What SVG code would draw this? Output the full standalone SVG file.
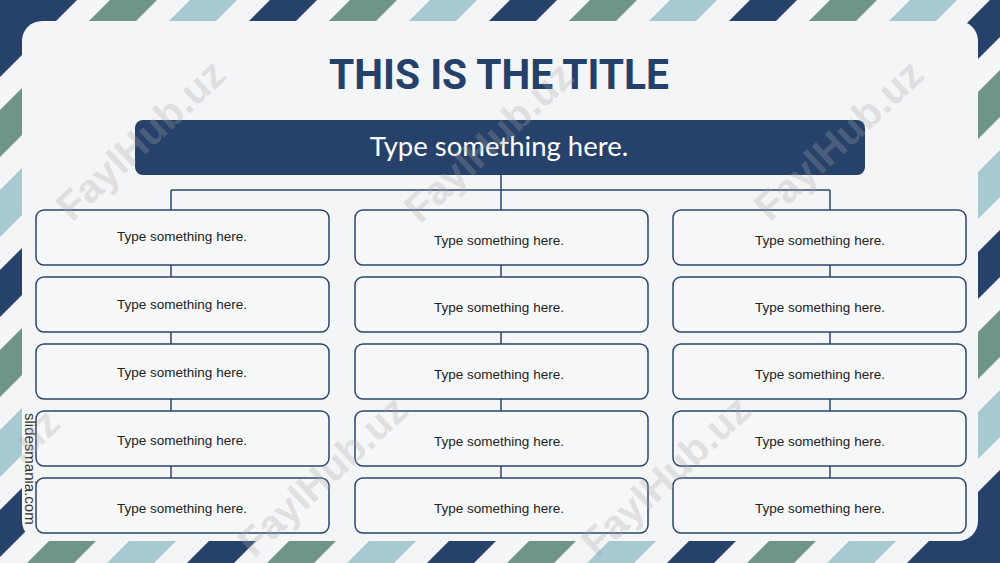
<svg xmlns="http://www.w3.org/2000/svg" width="1000" height="563" viewBox="0 0 1000 563">
<style>
.dk{fill:#26416a}.gr{fill:#6f958a}.lb{fill:#a7cad0}
.box{fill:#f6f7f8;stroke:#2b456d;stroke-width:1.5}
.bt{font-family:"Liberation Sans",Arial,sans-serif;font-size:13.5px;fill:#222;text-anchor:middle}
.con{stroke:#2b456d;stroke-width:1.5;fill:none}
.wm{font-family:"Liberation Sans",Arial,sans-serif;font-weight:bold;font-size:40px;fill:#a8a8a8;fill-opacity:0.3;text-anchor:middle}
</style>
<rect width="1000" height="563" fill="#f4f5f6"/>
<g id="stripes">
<polygon class="dk" points="0,0 77,0 0,77"/>
<polygon class="gr" points="110,0 157,0 -443,600 -490,600"/>
<polygon class="lb" points="190,0 237,0 -363,600 -410,600"/>
<polygon class="dk" points="270,0 317,0 -283,600 -330,600"/>
<polygon class="gr" points="350,0 397,0 -203,600 -250,600"/>
<polygon class="lb" points="430,0 477,0 -123,600 -170,600"/>
<polygon class="dk" points="510,0 557,0 -43,600 -90,600"/>
<polygon class="gr" points="590,0 637,0 37,600 -10,600"/>
<polygon class="lb" points="670,0 717,0 117,600 70,600"/>
<polygon class="dk" points="750,0 797,0 197,600 150,600"/>
<polygon class="gr" points="830,0 877,0 277,600 230,600"/>
<polygon class="lb" points="910,0 957,0 357,600 310,600"/>
<polygon class="dk" points="990,0 1037,0 437,600 390,600"/>
<polygon class="gr" points="1070,0 1117,0 517,600 470,600"/>
<polygon class="lb" points="1150,0 1197,0 597,600 550,600"/>
<polygon class="dk" points="1230,0 1277,0 677,600 630,600"/>
<polygon class="gr" points="1310,0 1357,0 757,600 710,600"/>
<polygon class="lb" points="1390,0 1437,0 837,600 790,600"/>
<polygon class="dk" points="1000,470 1000,600 870,600"/>
</g>
<rect id="panel" x="22" y="21" width="956" height="520" rx="20" fill="#f4f5f6"/>
<text id="title" x="499" y="89" font-family="Roboto,'Liberation Sans',sans-serif" font-weight="700" font-size="43" fill="#25406a" text-anchor="middle" textLength="340" lengthAdjust="spacingAndGlyphs">THIS IS THE TITLE</text>
<g id="connectors">
<line class="con" x1="501" y1="175" x2="501" y2="210"/>
<line class="con" x1="171" y1="190" x2="830" y2="190"/>
<line class="con" x1="171" y1="190" x2="171" y2="210"/>
<line class="con" x1="830" y1="190" x2="830" y2="210"/>
<line class="con" x1="171" y1="265" x2="171" y2="277"/>
<line class="con" x1="171" y1="332" x2="171" y2="344"/>
<line class="con" x1="171" y1="399" x2="171" y2="411"/>
<line class="con" x1="171" y1="466" x2="171" y2="478"/>
<line class="con" x1="501" y1="265" x2="501" y2="277"/>
<line class="con" x1="501" y1="332" x2="501" y2="344"/>
<line class="con" x1="501" y1="399" x2="501" y2="411"/>
<line class="con" x1="501" y1="466" x2="501" y2="478"/>
<line class="con" x1="830" y1="265" x2="830" y2="277"/>
<line class="con" x1="830" y1="332" x2="830" y2="344"/>
<line class="con" x1="830" y1="399" x2="830" y2="411"/>
<line class="con" x1="830" y1="466" x2="830" y2="478"/>
</g>
<g id="header">
<rect x="135" y="120" width="730" height="55" rx="8" fill="#26416a"/>
<text x="499" y="156" font-family="Lato,'Liberation Sans',sans-serif" font-size="27.5" fill="#ffffff" text-anchor="middle">Type something here.</text>
</g>
<g id="c1r1"><rect class="box" x="36" y="210" width="293" height="55" rx="8"/><text class="bt" x="182" y="241">Type something here.</text></g>
<g id="c1r2"><rect class="box" x="36" y="277" width="293" height="55" rx="8"/><text class="bt" x="182" y="309">Type something here.</text></g>
<g id="c1r3"><rect class="box" x="36" y="344" width="293" height="55" rx="8"/><text class="bt" x="182" y="377">Type something here.</text></g>
<g id="c1r4"><rect class="box" x="36" y="411" width="293" height="55" rx="8"/><text class="bt" x="182" y="445">Type something here.</text></g>
<g id="c1r5"><rect class="box" x="36" y="478" width="293" height="55" rx="8"/><text class="bt" x="182" y="513">Type something here.</text></g>
<g id="c2r1"><rect class="box" x="355" y="210" width="293" height="55" rx="8"/><text class="bt" x="499" y="245">Type something here.</text></g>
<g id="c2r2"><rect class="box" x="355" y="277" width="293" height="55" rx="8"/><text class="bt" x="499" y="312">Type something here.</text></g>
<g id="c2r3"><rect class="box" x="355" y="344" width="293" height="55" rx="8"/><text class="bt" x="499" y="379">Type something here.</text></g>
<g id="c2r4"><rect class="box" x="355" y="411" width="293" height="55" rx="8"/><text class="bt" x="499" y="446">Type something here.</text></g>
<g id="c2r5"><rect class="box" x="355" y="478" width="293" height="55" rx="8"/><text class="bt" x="499" y="513">Type something here.</text></g>
<g id="c3r1"><rect class="box" x="673" y="210" width="293" height="55" rx="8"/><text class="bt" x="820" y="245">Type something here.</text></g>
<g id="c3r2"><rect class="box" x="673" y="277" width="293" height="55" rx="8"/><text class="bt" x="820" y="312">Type something here.</text></g>
<g id="c3r3"><rect class="box" x="673" y="344" width="293" height="55" rx="8"/><text class="bt" x="820" y="379">Type something here.</text></g>
<g id="c3r4"><rect class="box" x="673" y="411" width="293" height="55" rx="8"/><text class="bt" x="820" y="446">Type something here.</text></g>
<g id="c3r5"><rect class="box" x="673" y="478" width="293" height="55" rx="8"/><text class="bt" x="820" y="513">Type something here.</text></g>
<text id="credit" transform="translate(25,413) rotate(90)" font-family="'Liberation Sans',Arial,sans-serif" font-size="15" fill="#333">slidesmania.com</text>
<g id="watermarks">
<text class="wm" transform="translate(150,150) rotate(-43)">FaylHub.uz</text>
<text class="wm" transform="translate(498,152) rotate(-43)">FaylHub.uz</text>
<text class="wm" transform="translate(848,150) rotate(-43)">FaylHub.uz</text>
<text class="wm" transform="translate(332,486) rotate(-43)">FaylHub.uz</text>
<text class="wm" transform="translate(675,486) rotate(-43)">FaylHub.uz</text>
<text class="wm" transform="translate(42,445) rotate(-43)">.uz</text>
</g>
</svg>
